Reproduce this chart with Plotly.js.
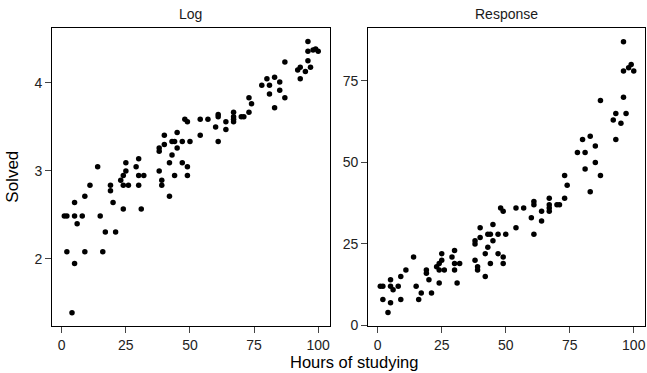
<!DOCTYPE html>
<html>
<head>
<meta charset="utf-8">
<script src="https://cdn.plot.ly/plotly-3.0.1.min.js"></script>
<style>html,body{margin:0;padding:0;background:#fff;}#chart{width:647px;height:373px;}</style>
</head>
<body>
<div id="chart"></div>
<script>
const hours = [1,2,2,4,5,5,5,6,8,9, 9,11,14,15,16,17,19,19,20,21, 23,24,24,24,25,25,26,29,30,30, 30,31,32,38,38,38,39,39,40,40, 42,42,43,43,44,44,45,45,47,47, 48,49,49,49,50,54,54,57,60,61, 61,61,64,64,67,67,67,67,70,71, 73,73,74,78,80,81,81,83,83,85, 85,87,87,92,93,93,95,96,96,96, 97,98,99,100];
const solved = [12,12,8,4,14,12,7,11,12,15, 8,17,21,12,8,10,17,16,14,10, 18,19,17,13,22,20,17,21,23,19, 17,13,19,26,25,20,18,17,30,27, 22,15,28,24,28,19,31,26,28,22, 36,35,21,19,28,36,30,36,33,38, 37,28,35,32,39,37,36,35,37,37, 46,39,43,53,57,53,48,58,41,55, 50,69,46,63,65,57,62,87,78,70, 65,79,80,78];
const logSolved = [2.485,2.485,2.079,1.386,2.639,2.485,1.946,2.398,2.485,2.708, 2.079,2.833,3.045,2.485,2.079,2.303,2.833,2.773,2.639,2.303, 2.890,2.944,2.833,2.565,3.091,2.996,2.833,3.045,3.135,2.944, 2.833,2.565,2.944,3.258,3.219,2.996,2.890,2.833,3.401,3.296, 3.091,2.708,3.332,3.178,3.332,2.944,3.434,3.258,3.332,3.091, 3.584,3.555,3.045,2.944,3.332,3.584,3.401,3.584,3.497,3.638, 3.611,3.332,3.555,3.466,3.664,3.611,3.584,3.555,3.611,3.611, 3.829,3.664,3.761,3.970,4.043,3.970,3.871,4.060,3.714,4.007, 3.912,4.234,3.829,4.143,4.174,4.043,4.127,4.466,4.357,4.248, 4.174,4.369,4.382,4.357];
const panelTitles = ["Log", "Response"];
const xTicks = [0,25,50,75,100];
const logTicks = [2,3,4];
const respTicks = [0,25,50,75];

const FONT = "Liberation Sans, Arial, Helvetica, sans-serif";
const marker = {color: "#000", size: 5.5};

const traces = [
  {x: hours, y: logSolved, type: "scatter", mode: "markers", marker: marker, xaxis: "x", yaxis: "y", hoverinfo: "none"},
  {x: hours, y: solved, type: "scatter", mode: "markers", marker: marker, xaxis: "x2", yaxis: "y2", hoverinfo: "none"}
];

const axBase = {
  showgrid: false, zeroline: false, showline: true, mirror: true,
  linecolor: "#000", linewidth: 1,
  ticks: "outside", ticklen: 6, tickwidth: 1, tickcolor: "#444",
  tickfont: {family: FONT, size: 14, color: "#222"}
};

const layout = {
  width: 647, height: 373,
  margin: {l: 52, r: 2, t: 28, b: 47},
  paper_bgcolor: "#fff", plot_bgcolor: "#fff",
  showlegend: false,
  font: {family: FONT, color: "#000"},
  xaxis: Object.assign({}, axBase, {domain: [0, 0.4688], range: [-3.8, 104.6], tickvals: xTicks, anchor: "y"}),
  yaxis: Object.assign({}, axBase, {range: [1.236, 4.62], tickvals: logTicks, anchor: "x"}),
  xaxis2: Object.assign({}, axBase, {domain: [0.5329, 1], range: [-3.8, 104.4], tickvals: xTicks, anchor: "y2"}),
  yaxis2: Object.assign({}, axBase, {range: [-0.15, 91.2], tickvals: respTicks, anchor: "x2"}),
  annotations: [
    {text: panelTitles[0], xref: "paper", yref: "paper", x: 0.2344, y: 1.046, xanchor: "center", yanchor: "middle", showarrow: false, font: {family: FONT, size: 14, color: "#1a1a1a"}},
    {text: panelTitles[1], xref: "paper", yref: "paper", x: 0.7665, y: 1.046, xanchor: "center", yanchor: "middle", showarrow: false, font: {family: FONT, size: 14, color: "#1a1a1a"}},
    {text: "Hours of studying", xref: "paper", yref: "paper", x: 0.509, y: -0.122, xanchor: "center", yanchor: "middle", showarrow: false, font: {family: FONT, size: 16.5, color: "#000"}},
    {text: "Solved", xref: "paper", yref: "paper", x: -0.068, y: 0.5, xanchor: "center", yanchor: "middle", textangle: -90, showarrow: false, font: {family: FONT, size: 17, color: "#000"}}
  ]
};

Plotly.newPlot("chart", traces, layout, {staticPlot: true, displayModeBar: false});
</script>
</body>
</html>
